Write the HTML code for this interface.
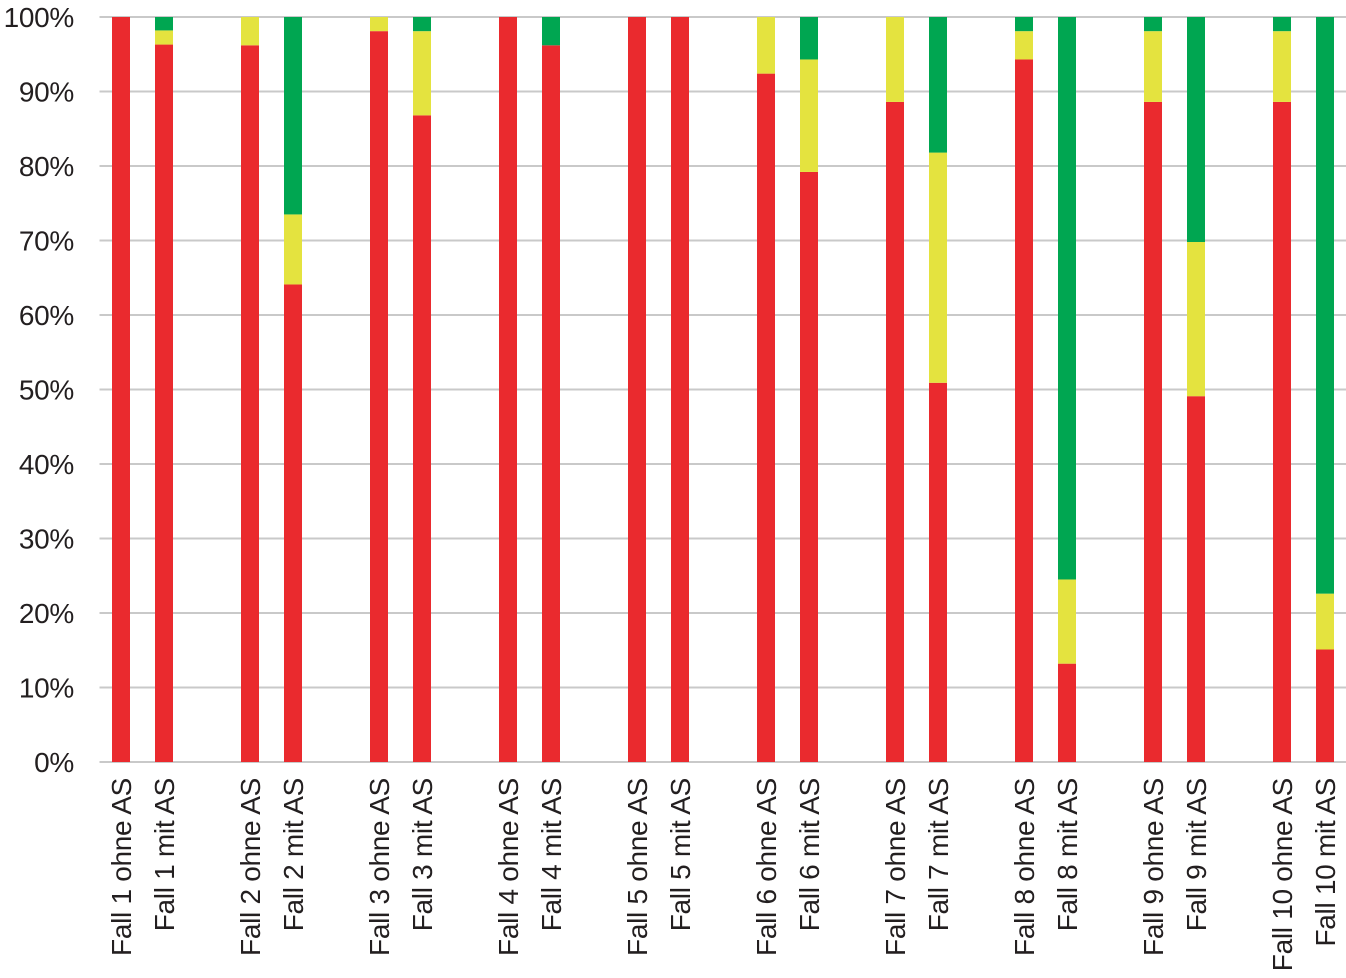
<!DOCTYPE html>
<html><head><meta charset="utf-8"><style>
html,body{margin:0;padding:0;background:#fff;}
svg{display:block;font-family:"Liberation Sans",Arial,sans-serif;}
</style></head><body>
<svg id="chart" width="1346" height="978" viewBox="0 0 1346 978" xmlns="http://www.w3.org/2000/svg">
<g id="grid"></g>
<g id="bars"></g>
<g id="ylabels"></g>
<g id="xlabels"></g>
</svg>
<script>
const categories = ["Fall 1 ohne AS","Fall 1 mit AS","Fall 2 ohne AS","Fall 2 mit AS","Fall 3 ohne AS","Fall 3 mit AS","Fall 4 ohne AS","Fall 4 mit AS","Fall 5 ohne AS","Fall 5 mit AS","Fall 6 ohne AS","Fall 6 mit AS","Fall 7 ohne AS","Fall 7 mit AS","Fall 8 ohne AS","Fall 8 mit AS","Fall 9 ohne AS","Fall 9 mit AS","Fall 10 ohne AS","Fall 10 mit AS"];
const redValues = [100,96.3,96.2,64.1,98.1,86.8,100,96.2,100,100,92.4,79.2,88.6,50.9,94.3,13.2,88.6,49.1,88.6,15.1];
const yellowValues = [0,1.9,3.8,9.4,1.9,11.3,0,0,0,0,7.6,15.1,11.4,30.9,3.8,11.3,9.5,20.7,9.5,7.5];
const greenValues = [0,1.8,0,26.5,0,1.9,0,3.8,0,0,0,5.7,0,18.2,1.9,75.5,1.9,30.2,1.9,77.4];
const yTicks = [0,10,20,30,40,50,60,70,80,90,100];
const yTickLabels = ["0%","10%","20%","30%","40%","50%","60%","70%","80%","90%","100%"];

const NS = "http://www.w3.org/2000/svg";
const plotLeft = 99.5, plotRight = 1346, y0 = 762, y100 = 17, slotW = 43, barW = 18;
function yScale(v){ return y0 - (y0 - y100) * v / 100; }
function xCenter(i){ const slot = Math.floor(i/2)*3 + (i%2); return plotLeft + slot*slotW + slotW/2; }
function mk(tag, attrs, parent){ const e=document.createElementNS(NS,tag); for(const k in attrs) e.setAttribute(k,attrs[k]); parent.appendChild(e); return e; }

const grid=document.getElementById('grid'), yl=document.getElementById('ylabels');
yTicks.forEach((t,i)=>{
  const ln = mk('line',{x1:plotLeft,x2:plotRight,y1:yScale(t),y2:yScale(t),stroke:'#c9c9c9','stroke-width':2},grid);
  
  
  const tx = mk('text',{x:74,y:yScale(t)+10,'text-anchor':'end','font-size':28,fill:'#231f20','letter-spacing':'-0.3'},yl);
  tx.textContent = yTickLabels[i];
  
  
});

const bars=document.getElementById('bars'), xl=document.getElementById('xlabels');
categories.forEach((c,i)=>{
  const cx = xCenter(i);
  const segs = [[redValues[i],'#ea2a2e','red'],[yellowValues[i],'#e4e33f','yellow'],[greenValues[i],'#00a651','green']];
  let base = 0;
  segs.forEach(s=>{
    if(s[0]>0){
      const top = Math.min(100, base+s[0]);
      const r = mk('rect',{x:cx-barW/2,y:yScale(top),width:barW,height:yScale(base)-yScale(top),fill:s[1]},bars);
      
      
    }
    base += s[0];
  });
  const tx = mk('text',{transform:'translate('+(cx+10)+',778) rotate(-90)','text-anchor':'end','font-size':28,fill:'#231f20','letter-spacing':'-0.3'},xl);
  tx.textContent = c;
  
  
});
</script>
</body></html>
